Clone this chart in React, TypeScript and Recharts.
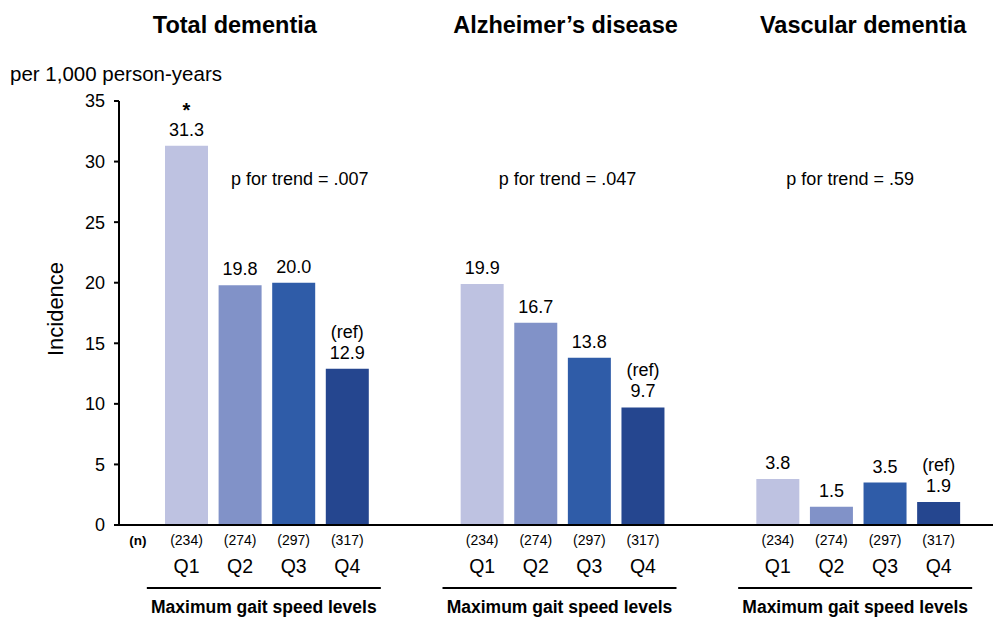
import React from "react"
import { BarChart, Bar, XAxis, YAxis, LabelList } from "recharts"

const groups = ["Total dementia", "Alzheimer’s disease", "Vascular dementia"]
const quartiles = ["Q1", "Q2", "Q3", "Q4"]
const sampleSizes = [234, 274, 297, 317]

const totalDementia = [31.3, 19.8, 20.0, 12.9]
const alzheimers = [19.9, 16.7, 13.8, 9.7]
const vascular = [3.8, 1.5, 3.5, 1.9]

const trendP = [".007", ".047", ".59"]
// "*" marks a significant difference vs. the reference quartile
const marks = [
  ["*", "", "", ""],
  ["", "", "", ""],
  ["", "", "", ""],
]
const refQuartile = "Q4"
const yTicks = [0, 5, 10, 15, 20, 25, 30, 35]

const colors = ["#bec2e1", "#8192c8", "#2f5ca8", "#25468f"]
const FONT = '"Liberation Sans", Arial, Helvetica, sans-serif'

// small nudges for the per-panel texts (relative to the panel centre)
const TITLE_SHIFT = [-32, 3, 5]
const P_SHIFT = [33, 5, -8]

const series = [totalDementia, alzheimers, vascular]
const data = groups.map((g, i) => ({
  group: g,
  q1: series[i][0],
  q2: series[i][1],
  q3: series[i][2],
  q4: series[i][3],
}))

function GroupTick(props: any) {
  const { x, payload } = props
  const i = groups.indexOf(payload.value)
  return (
    <g>
      <text x={x + TITLE_SHIFT[i]} y={33} textAnchor="middle" fontSize={23.5} fontWeight="bold" fill="#000">
        {payload.value}
      </text>
      <text x={x + P_SHIFT[i]} y={185} textAnchor="middle" fontSize={18} fill="#000">
        {`p for trend = ${trendP[i]}`}
      </text>
      <line x1={x - 120} x2={x + 114} y1={588} y2={588} stroke="#000" strokeWidth={2} />
      <text x={x - 3} y={613} textAnchor="middle" fontSize={17.5} fontWeight="bold" fill="#000">
        Maximum gait speed levels
      </text>
      {i === 0 && (
        <text x={x - 129} y={545} textAnchor="middle" fontSize={13.5} fontWeight="bold" fill="#000">
          (n)
        </text>
      )}
    </g>
  )
}

function makeLabel(q: number) {
  return (props: any) => {
    const { x, y, width, height, value, index } = props
    const cx = x + width / 2
    const base = y + height
    const mark = marks[index][q]
    return (
      <g fill="#000">
        <text x={cx} y={y - 10} textAnchor="middle" fontSize={18}>
          {Number(value).toFixed(1)}
        </text>
        {quartiles[q] === refQuartile && (
          <text x={cx} y={y - 31} textAnchor="middle" fontSize={18}>
            (ref)
          </text>
        )}
        {mark && (
          <text x={cx} y={y - 29} textAnchor="middle" fontSize={20} fontWeight="bold">
            {mark}
          </text>
        )}
        <text x={cx} y={base + 20} textAnchor="middle" fontSize={14}>
          {`(${sampleSizes[q]})`}
        </text>
        <text x={cx} y={base + 48} textAnchor="middle" fontSize={19.5}>
          {quartiles[q]}
        </text>
      </g>
    )
  }
}

function AxisTitle() {
  return (
    <g fill="#000">
      <text x={10} y={81} fontSize={20.5}>
        per 1,000 person-years
      </text>
      <text x={63} y={309} textAnchor="middle" fontSize={22} transform="rotate(-90, 63, 309)">
        Incidence
      </text>
    </g>
  )
}

export default function App() {
  return (
    <div
      style={{
        position: "absolute",
        left: 0,
        top: 0,
        width: 993,
        height: 617,
        overflow: "hidden",
        background: "#fff",
        fontFamily: FONT,
      }}
    >
      <BarChart
        width={1010}
        height={617}
        data={data}
        margin={{ top: 101, right: 4, bottom: 0, left: 0 }}
        barGap={10.6}
        style={{ fontFamily: FONT }}
      >
        <XAxis
          dataKey="group"
          height={92}
          interval={0}
          axisLine={{ stroke: "#000", strokeWidth: 2 }}
          tickLine={false}
          tick={<GroupTick />}
        />
        <YAxis
          width={119}
          domain={[0, 35]}
          ticks={yTicks}
          tickSize={5}
          tickMargin={9}
          axisLine={{ stroke: "#000", strokeWidth: 2 }}
          tickLine={{ stroke: "#000", strokeWidth: 2 }}
          tick={{ fill: "#000", fontSize: 18 }}
          label={<AxisTitle />}
        />
        {["q1", "q2", "q3", "q4"].map((k, q) => (
          <Bar key={k} dataKey={k} fill={colors[q]} barSize={43} isAnimationActive={false}>
            <LabelList dataKey={k} content={makeLabel(q)} />
          </Bar>
        ))}
      </BarChart>
    </div>
  )
}
